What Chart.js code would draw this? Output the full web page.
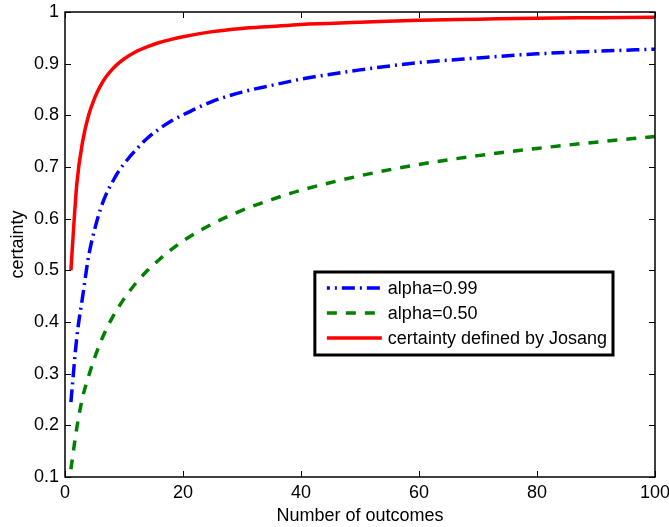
<!DOCTYPE html>
<html>
<head>
<meta charset="utf-8">
<script src="https://cdn.jsdelivr.net/npm/chart.js@4/dist/chart.umd.min.js"></script>
<style>
html,body{margin:0;padding:0;background:#fff;}
#wrap{width:669px;height:527px;}
</style>
</head>
<body>
<div id="wrap"><canvas id="c" width="669" height="527"></canvas></div>
<script>
// ---- data ----
const outcomes = [1,2,3,4,5,6,7,8,9,10,12,14,16,18,20,25,30,35,40,50,60,70,80,90,100];
const alpha099 = [0.245,0.370,0.450,0.527,0.578,0.618,0.648,0.670,0.690,0.706,0.733,0.756,0.774,0.789,0.801,0.827,0.845,0.858,0.870,0.888,0.902,0.911,0.919,0.924,0.928];
const alpha050 = [0.115,0.195,0.255,0.295,0.330,0.360,0.386,0.408,0.427,0.445,0.475,0.500,0.521,0.540,0.557,0.590,0.616,0.637,0.655,0.683,0.705,0.722,0.736,0.748,0.759];
const josang   = [0.500,0.667,0.750,0.800,0.833,0.857,0.875,0.889,0.900,0.909,0.923,0.933,0.941,0.947,0.952,0.962,0.968,0.972,0.976,0.980,0.984,0.986,0.988,0.989,0.990];
const seriesLabels = ['alpha=0.99','alpha=0.50','certainty defined by Josang'];
const xTickValues = [0,20,40,60,80,100];
const yTickValues = [0.1,0.2,0.3,0.4,0.5,0.6,0.7,0.8,0.9,1];
const xTitle = 'Number of outcomes';
const yTitle = 'certainty';

const FONT = '"Liberation Sans", Arial, Helvetica, sans-serif';
const FS = 18;

function pts(ys){ return outcomes.map((x,i)=>({x:x,y:ys[i]})); }

const boxPlugin = {
  id:'matlabBox',
  afterDatasetsDraw(chart){
    const ctx = chart.ctx, a = chart.chartArea;
    const xs = chart.scales.x, ys = chart.scales.y;
    ctx.save();
    ctx.strokeStyle = '#000';
    ctx.lineWidth = 1.5;
    ctx.strokeRect(a.left, a.top, a.right - a.left, a.bottom - a.top);
    ctx.lineWidth = 1;
    const tl = 6;
    xTickValues.forEach(v=>{
      const px = Math.round(xs.getPixelForValue(v)) + 0.5;
      ctx.beginPath();
      ctx.moveTo(px, a.bottom); ctx.lineTo(px, a.bottom - tl);
      ctx.moveTo(px, a.top); ctx.lineTo(px, a.top + tl);
      ctx.stroke();
    });
    yTickValues.forEach(v=>{
      const py = Math.round(ys.getPixelForValue(v)) + 0.5;
      ctx.beginPath();
      ctx.moveTo(a.left, py); ctx.lineTo(a.left + tl, py);
      ctx.moveTo(a.right, py); ctx.lineTo(a.right - tl, py);
      ctx.stroke();
    });
    // legend box
    ctx.font = FS + 'px ' + FONT;
    let tw = 0;
    chart.data.datasets.forEach(d=>{ tw = Math.max(tw, ctx.measureText(d.label).width); });
    const bw = 73 + tw + 6, bh = 83;
    const bx = a.right - 42 - bw, by = a.top + 260;
    ctx.fillStyle = '#fff';
    ctx.fillRect(bx, by, bw, bh);
    ctx.lineWidth = 3;
    ctx.strokeStyle = '#000';
    ctx.strokeRect(bx, by, bw, bh);
    chart.data.datasets.forEach((d,i)=>{
      const cy = by + 16 + i*25;
      ctx.save();
      ctx.strokeStyle = d.borderColor;
      ctx.lineWidth = d.borderWidth;
      ctx.setLineDash(d.borderDash || []);
      ctx.lineDashOffset = d.legendDashOffset || 0;
      ctx.beginPath();
      ctx.moveTo(bx + 12, cy); ctx.lineTo(bx + 67, cy);
      ctx.stroke();
      ctx.restore();
      ctx.fillStyle = '#000';
      ctx.textBaseline = 'middle';
      ctx.textAlign = 'left';
      ctx.fillText(d.label, bx + 73, cy + 1);
    });
    ctx.restore();
  }
};

new Chart(document.getElementById('c'), {
  type:'line',
  data:{
    datasets:[
      {label:seriesLabels[0], data:pts(alpha099), borderColor:'#0000ff', borderWidth:3.5, borderDash:[13,5,2,5], legendDashOffset:10, pointRadius:0, fill:false, cubicInterpolationMode:'monotone'},
      {label:seriesLabels[1], data:pts(alpha050), borderColor:'#008000', borderWidth:3.5, borderDash:[10,9], pointRadius:0, fill:false, cubicInterpolationMode:'monotone'},
      {label:seriesLabels[2], data:pts(josang), borderColor:'#ff0000', borderWidth:3.5, pointRadius:0, fill:false, cubicInterpolationMode:'monotone'}
    ]
  },
  options:{
    responsive:false,
    animation:false,
    devicePixelRatio:1,
    layout:{padding:{top:12,right:14,left:0,bottom:0}},
    plugins:{legend:{display:false}, tooltip:{enabled:false}},
    scales:{
      x:{
        type:'linear', min:0, max:100,
        afterBuildTicks(s){ s.ticks = xTickValues.map(v=>({value:v})); },
        afterFit(s){ s.height = 50; s.paddingLeft = 0; s.paddingRight = 0; },
        grid:{display:false, drawTicks:false},
        border:{display:false},
        ticks:{color:'#000', font:{family:FONT,size:FS}, padding:5, maxRotation:0, autoSkip:false},
        title:{display:true, text:xTitle, color:'#000', font:{family:FONT,size:FS}, padding:{top:0,bottom:0}}
      },
      y:{
        type:'linear', min:0.1, max:1,
        afterBuildTicks(s){ s.ticks = yTickValues.map(v=>({value:v})); },
        afterFit(s){ s.width = 65; s.paddingTop = 0; s.paddingBottom = 0; },
        grid:{display:false, drawTicks:false},
        border:{display:false},
        ticks:{color:'#000', font:{family:FONT,size:FS}, padding:6, callback:v=>String(Number(v.toFixed(1)))},
        title:{display:true, text:yTitle, color:'#000', font:{family:FONT,size:FS}, padding:{top:7,bottom:0}}
      }
    }
  },
  plugins:[boxPlugin]
});
</script>
</body>
</html>
